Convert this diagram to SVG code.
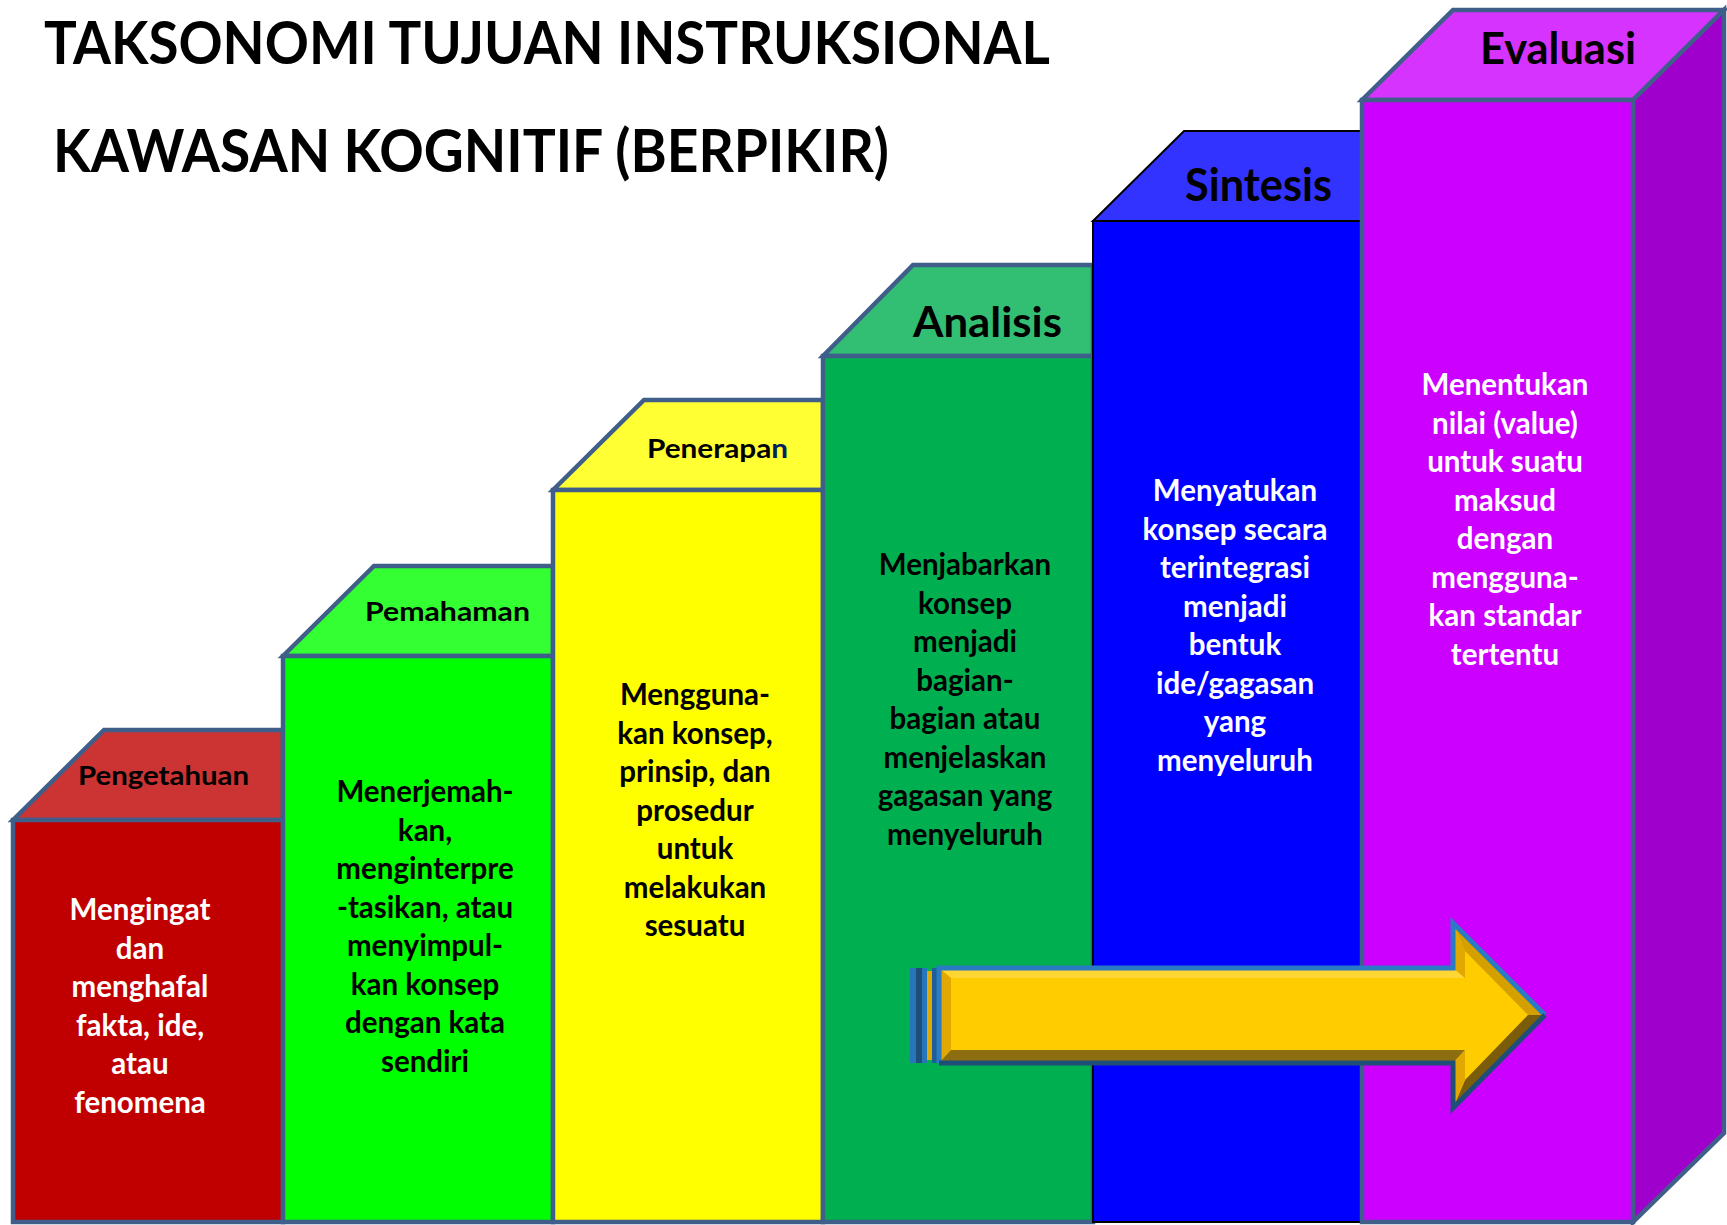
<svg xmlns="http://www.w3.org/2000/svg" width="1727" height="1225" viewBox="0 0 1727 1225">
<style>
.o{stroke:#3F5F8A;stroke-width:4.5;stroke-linejoin:miter}
.ob{stroke:#000;stroke-width:2}
.t{font-family:Lato,"Open Sans","Liberation Sans",sans-serif;font-weight:bold}
.title{font-size:60px;fill:#000}
.lbl{fill:#000}
.body{font-size:29.5px;text-anchor:middle}
.w{fill:#fff}
.k{fill:#000}
</style>
<rect width="1727" height="1225" fill="#fff"/>
<g id="title">
<text class="t title" x="44" y="64" textLength="1006" lengthAdjust="spacingAndGlyphs">TAKSONOMI TUJUAN INSTRUKSIONAL</text>
<text class="t title" x="53" y="172" textLength="836" lengthAdjust="spacingAndGlyphs">KAWASAN KOGNITIF (BERPIKIR)</text>
</g>
<g id="pengetahuan">
<polygon class="o" fill="#CC3333" points="13,820 104,730 283,730 283,820"/>
<rect class="o" fill="#C00000" x="13" y="820" width="270" height="402"/>
<text class="t lbl" x="78" y="785" font-size="27" textLength="171" lengthAdjust="spacingAndGlyphs">Pengetahuan</text>
<text class="t body w" x="140"><tspan x="140" y="920">Mengingat</tspan><tspan x="140" y="958.5">dan</tspan><tspan x="140" y="997">menghafal</tspan><tspan x="140" y="1035.5">fakta, ide,</tspan><tspan x="140" y="1074">atau</tspan><tspan x="140" y="1112.5">fenomena</tspan></text>
</g>
<g id="pemahaman">
<polygon class="o" fill="#33FF33" points="283,656 374,566 553,566 553,656"/>
<rect class="o" fill="#00FF00" x="283" y="656" width="270" height="566"/>
<text class="t lbl" x="365" y="621" font-size="27" textLength="165" lengthAdjust="spacingAndGlyphs">Pemahaman</text>
<text class="t body k"><tspan x="425" y="802">Menerjemah-</tspan><tspan x="425" y="840.5">kan,</tspan><tspan x="425" y="879">menginterpre</tspan><tspan x="425" y="917.5">-tasikan, atau</tspan><tspan x="425" y="956">menyimpul-</tspan><tspan x="425" y="994.5">kan konsep</tspan><tspan x="425" y="1033">dengan kata</tspan><tspan x="425" y="1071.5">sendiri</tspan></text>
</g>
<g id="penerapan">
<polygon class="o" fill="#FFFF33" points="553,490 644,400 823,400 823,490"/>
<rect class="o" fill="#FFFF00" x="553" y="490" width="270" height="732"/>
<text class="t lbl" x="647" y="458" font-size="27" textLength="141" lengthAdjust="spacingAndGlyphs">Penerapa<tspan fill="#002060">n</tspan></text>
<text class="t body k"><tspan x="695" y="705">Mengguna-</tspan><tspan x="695" y="743.5">kan konsep,</tspan><tspan x="695" y="782">prinsip, dan</tspan><tspan x="695" y="820.5">prosedur</tspan><tspan x="695" y="859">untuk</tspan><tspan x="695" y="897.5">melakukan</tspan><tspan x="695" y="936">sesuatu</tspan></text>
</g>
<g id="analisis">
<polygon class="o" fill="#33BF73" points="823,356 913,265 1093,265 1093,356"/>
<rect class="o" fill="#00B050" x="823" y="356" width="270" height="866"/>
<text class="t lbl" x="913" y="337" font-size="42" textLength="149" lengthAdjust="spacingAndGlyphs">Analisis</text>
<text class="t body k"><tspan x="965" y="575">Menjabarkan</tspan><tspan x="965" y="613.5">konsep</tspan><tspan x="965" y="652">menjadi</tspan><tspan x="965" y="690.5">bagian-</tspan><tspan x="965" y="729">bagian atau</tspan><tspan x="965" y="767.5">menjelaskan</tspan><tspan x="965" y="806">gagasan yang</tspan><tspan x="965" y="844.5">menyeluruh</tspan></text>
</g>
<g id="sintesis">
<polygon class="ob" fill="#3333FF" points="1093,221 1184,131 1362,131 1362,221"/>
<rect class="ob" fill="#0000FF" x="1093" y="221" width="269" height="1001"/>
<text class="t lbl" x="1185" y="201" font-size="45" textLength="147" lengthAdjust="spacingAndGlyphs">Sintesis</text>
<text class="t body w"><tspan x="1235" y="501">Menyatukan</tspan><tspan x="1235" y="539.5">konsep secara</tspan><tspan x="1235" y="578">terintegrasi</tspan><tspan x="1235" y="616.5">menjadi</tspan><tspan x="1235" y="655">bentuk</tspan><tspan x="1235" y="693.5">ide/gagasan</tspan><tspan x="1235" y="732">yang</tspan><tspan x="1235" y="770.5">menyeluruh</tspan></text>
</g>
<g id="evaluasi">
<polygon class="o" fill="#D633FF" points="1362,100 1453,10 1724,10 1633,100"/>
<polygon class="o" fill="#A000CC" points="1633,100 1724,10 1724,1133 1633,1222"/>
<rect class="o" fill="#CC00FF" x="1362" y="100" width="271" height="1122"/>
<text class="t lbl" x="1480" y="64" font-size="43" textLength="156" lengthAdjust="spacingAndGlyphs">Evaluasi</text>
<text class="t body w"><tspan x="1505" y="395">Menentukan</tspan><tspan x="1505" y="433.5">nilai (value)</tspan><tspan x="1505" y="472">untuk suatu</tspan><tspan x="1505" y="510.5">maksud</tspan><tspan x="1505" y="549">dengan</tspan><tspan x="1505" y="587.5">mengguna-</tspan><tspan x="1505" y="626">kan standar</tspan><tspan x="1505" y="664.5">tertentu</tspan></text>
</g>
<g id="connectors">
<g id="arrow">
<rect x="910" y="968" width="6" height="95" fill="#2676BC"/>
<rect x="916" y="968" width="6" height="95" fill="#1F4E79"/>
<rect x="922" y="968" width="5" height="95" fill="#2676BC"/>
<rect x="927" y="971" width="5" height="89" fill="#E0A800"/>
<rect x="932" y="968" width="7" height="95" fill="#1F5F99"/>
<path d="M939,968 L1453,968 L1453,923 L1545,1015 L1453,1108 L1453,1063 L939,1063 Z" fill="#FFCC00"/>
<polygon points="939,968 1453,968 1465,978 951,978" fill="#FFD633"/>
<polygon points="939,968 951,978 951,1050 939,1063" fill="#E0A800"/>
<polygon points="939,1063 951,1050 1465,1050 1453,1063" fill="#8C6D0F"/>
<polygon points="1453,923 1465,951 1465,978 1453,968" fill="#E0A800"/>
<polygon points="1453,923 1545,1015 1528,1015 1465,951" fill="#D4A000"/>
<polygon points="1545,1015 1453,1108 1465,1080 1528,1015" fill="#7A5C0A"/>
<polygon points="1453,1063 1465,1050 1465,1080 1453,1108" fill="#E0A800"/>
<path d="M939,1063 L939,968 L1453,968 L1453,923 L1545,1015" fill="none" stroke="#2A7BC4" stroke-width="5" stroke-linejoin="miter"/>
<path d="M1545,1015 L1453,1108 L1453,1063 L939,1063" fill="none" stroke="#1F4E79" stroke-width="5" stroke-linejoin="miter"/>
</g>
</g>
</svg>
